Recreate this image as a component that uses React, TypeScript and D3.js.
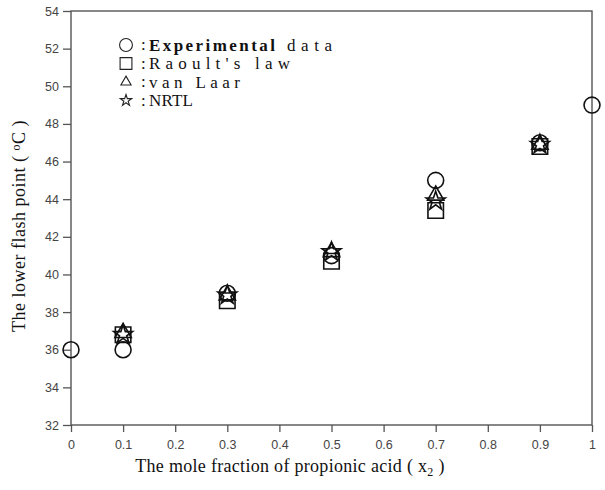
import React, { useRef, useEffect } from 'react';
import * as d3 from 'd3';

// x positions (mole fraction of propionic acid)
const expX = [0, 0.1, 0.3, 0.5, 0.7, 0.9, 1.0];
const expY = [36, 36, 39, 41, 45, 47, 49];
const calcX = [0.1, 0.3, 0.5, 0.7, 0.9];
const raoultY = [36.8, 38.6, 40.7, 43.4, 46.8];
const vanLaarY = [36.9, 38.9, 41.2, 44.2, 46.9];
const nrtlY = [36.8, 38.9, 41.2, 43.9, 46.9];

const xTicks = [0, 0.1, 0.2, 0.3, 0.4, 0.5, 0.6, 0.7, 0.8, 0.9, 1];
const yTicks = [32, 34, 36, 38, 40, 42, 44, 46, 48, 50, 52, 54];

const W = 605;
const H = 490;

const App = () => {
  const svgRef = useRef<SVGSVGElement | null>(null);

  useEffect(() => {
    if (!svgRef.current) return;
    const svg = d3.select(svgRef.current);
    svg.selectAll('*').remove();

    const left = 71, right = 592, top = 11, bottom = 425;
    const x = d3.scaleLinear().domain([0, 1]).range([left, right]);
    const y = d3.scaleLinear().domain([32, 54]).range([bottom, top]);
    const axisColor = '#555';
    const serif = '"Liberation Serif", "DejaVu Serif", serif';
    const sans = '"Liberation Sans", Arial, sans-serif';

    // frame
    svg.append('rect')
      .attr('x', left).attr('y', top)
      .attr('width', right - left).attr('height', bottom - top)
      .attr('fill', 'none').attr('stroke', axisColor).attr('stroke-width', 1.4);

    // axes
    const xAxis = svg.append('g')
      .attr('transform', `translate(0, ${bottom})`)
      .call(d3.axisBottom(x).tickValues(xTicks).tickSize(7).tickPadding(8)
        .tickFormat(d => d3.format('')(+d)));
    const yAxis = svg.append('g')
      .attr('transform', `translate(${left}, 0)`)
      .call(d3.axisLeft(y).tickValues(yTicks).tickSize(8).tickPadding(4));

    [xAxis, yAxis].forEach(a => {
      a.select('.domain').remove();
      a.selectAll('line').attr('stroke', axisColor).attr('stroke-width', 1.3);
      a.selectAll('text')
        .attr('fill', '#444')
        .attr('font-family', sans)
        .attr('font-size', 12.5);
    });

    // axis titles
    const xt = svg.append('text')
      .attr('x', 290).attr('y', 472)
      .attr('text-anchor', 'middle')
      .attr('font-family', serif).attr('font-size', 18).attr('letter-spacing', 0.3).attr('fill', '#111');
    xt.append('tspan').text('The mole fraction of propionic acid ( x');
    xt.append('tspan').attr('font-size', 12).attr('dy', 4).text('2');
    xt.append('tspan').attr('dy', -4).text(' )');

    const yt = svg.append('text')
      .attr('transform', `translate(25, 226) rotate(-90)`)
      .attr('text-anchor', 'middle')
      .attr('font-family', serif).attr('font-size', 18).attr('letter-spacing', 0.5).attr('fill', '#111');
    yt.append('tspan').text('The lower flash point ( ');
    yt.append('tspan').attr('font-size', 12).attr('dy', -5).text('o');
    yt.append('tspan').attr('dy', 5).text('C )');

    // markers
    const sym = (type: d3.SymbolType, size: number) => d3.symbol().type(type).size(size)();
    const shapes = [
      { xs: expX, ys: expY, path: sym(d3.symbolCircle, 200) },
      { xs: calcX, ys: raoultY, path: sym(d3.symbolSquare, 240) },
      { xs: calcX, ys: vanLaarY, path: sym(d3.symbolTriangle, 115) },
      { xs: calcX, ys: nrtlY, path: sym(d3.symbolStar, 110) },
    ];
    shapes.forEach(s => {
      svg.append('g').selectAll('path')
        .data(s.ys)
        .enter()
        .append('path')
        .attr('d', s.path)
        .attr('transform', (d, i) => `translate(${x(s.xs[i])}, ${y(d)})`)
        .attr('fill', 'none')
        .attr('stroke', '#111')
        .attr('stroke-width', 1.6);
    });

    // legend
    const legendItems = [
      { path: sym(d3.symbolCircle, 130), label: 'Experimental', len: 126 },
      { path: sym(d3.symbolSquare, 140), label: "Raoult's law", len: 141 },
      { path: sym(d3.symbolTriangle, 45), label: 'van Laar', len: 91 },
      { path: sym(d3.symbolStar, 40), label: 'NRTL', len: 44 },
    ];
    const lg = svg.append('g').attr('transform', 'translate(126, 45)');
    legendItems.forEach((it, i) => {
      const row = lg.append('g').attr('transform', `translate(0, ${i * 18.5})`);
      row.append('path').attr('d', it.path)
        .attr('fill', 'none').attr('stroke', '#222').attr('stroke-width', 1.1);
      row.append('text')
        .attr('x', 15).attr('y', 5)
        .attr('font-family', serif).attr('font-size', 17).attr('fill', '#111')
        .text(':');
      row.append('text')
        .attr('x', 23).attr('y', 5.5)
        .attr('font-family', serif).attr('font-size', 17).attr('fill', '#111')
        .attr('font-weight', i === 0 ? 'bold' : 'normal')
        .attr('textLength', it.len).attr('lengthAdjust', 'spacing')
        .text(it.label);
      if (i === 0) {
        row.append('text')
          .attr('x', 161).attr('y', 5.5)
          .attr('font-family', serif).attr('font-size', 17).attr('fill', '#111')
          .attr('textLength', 45).attr('lengthAdjust', 'spacing')
          .text('data');
      }
    });
  }, []);

  return (
    <div style={{ position: 'absolute', left: 0, top: 0, width: W, height: H, background: '#fff' }}>
      <svg ref={svgRef} width={W} height={H}></svg>
    </div>
  );
};

export default App;
